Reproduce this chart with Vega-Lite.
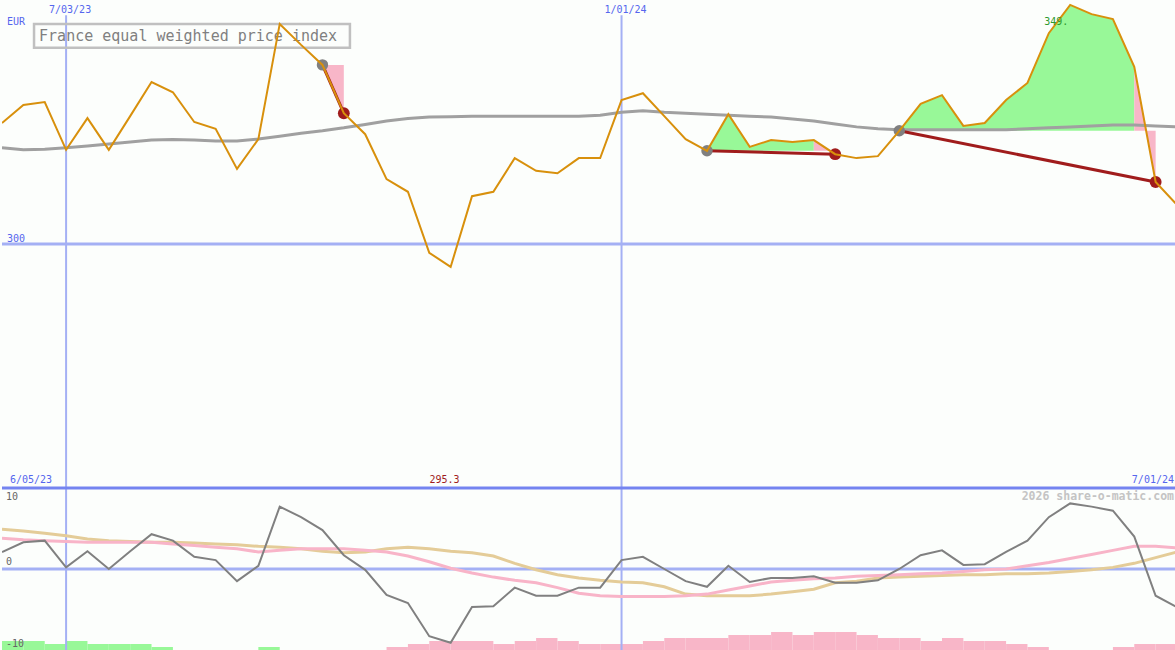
{
  "$schema": "https://vega.github.io/schema/vega-lite/v6.json",
  "background": "#fcfefc",
  "padding": 0,
  "autosize": {"type": "pad"},
  "spacing": 0,
  "bounds": "flush",
  "config": {"view": {"stroke": null}, "text": {"font": "DejaVu Sans Mono"}, "concat": {"spacing": 0}},
  "datasets": {
    "weekly": [
      {"date": "2023-06-12", "price": 324.8, "ma": 319.7, "osc": 2.1, "sig": 3.8, "slow": 4.9},
      {"date": "2023-06-19", "price": 328.5, "ma": 319.3, "osc": 3.3, "sig": 3.6, "slow": 4.7},
      {"date": "2023-06-26", "price": 329.1, "ma": 319.4, "osc": 3.5, "sig": 3.5, "slow": 4.4},
      {"date": "2023-07-03", "price": 319.3, "ma": 319.7, "osc": 0.2, "sig": 3.4, "slow": 4.1},
      {"date": "2023-07-10", "price": 325.8, "ma": 320.1, "osc": 2.2, "sig": 3.3, "slow": 3.7},
      {"date": "2023-07-17", "price": 319.3, "ma": 320.5, "osc": 0.0, "sig": 3.3, "slow": 3.5},
      {"date": "2023-07-24", "price": 326.2, "ma": 320.9, "osc": 2.2, "sig": 3.3, "slow": 3.4},
      {"date": "2023-07-31", "price": 333.2, "ma": 321.3, "osc": 4.3, "sig": 3.3, "slow": 3.3},
      {"date": "2023-08-07", "price": 331.1, "ma": 321.4, "osc": 3.5, "sig": 3.1, "slow": 3.3},
      {"date": "2023-08-14", "price": 325.0, "ma": 321.3, "osc": 1.5, "sig": 2.9, "slow": 3.2},
      {"date": "2023-08-21", "price": 323.6, "ma": 321.1, "osc": 1.1, "sig": 2.7, "slow": 3.1},
      {"date": "2023-08-28", "price": 315.4, "ma": 321.1, "osc": -1.5, "sig": 2.5, "slow": 3.0},
      {"date": "2023-09-04", "price": 321.5, "ma": 321.5, "osc": 0.4, "sig": 2.1, "slow": 2.8},
      {"date": "2023-09-11", "price": 345.1, "ma": 322.1, "osc": 7.7, "sig": 2.3, "slow": 2.7},
      {"date": "2023-09-18", "price": 340.8, "ma": 322.7, "osc": 6.4, "sig": 2.5, "slow": 2.5},
      {"date": "2023-09-25", "price": 336.7, "ma": 323.2, "osc": 4.8, "sig": 2.5, "slow": 2.2},
      {"date": "2023-10-02", "price": 326.8, "ma": 323.8, "osc": 1.7, "sig": 2.5, "slow": 2.0},
      {"date": "2023-10-09", "price": 322.5, "ma": 324.5, "osc": -0.1, "sig": 2.3, "slow": 2.1},
      {"date": "2023-10-16", "price": 313.3, "ma": 325.2, "osc": -3.2, "sig": 2.1, "slow": 2.5},
      {"date": "2023-10-23", "price": 310.7, "ma": 325.7, "osc": -4.2, "sig": 1.6, "slow": 2.7},
      {"date": "2023-10-30", "price": 298.2, "ma": 326.0, "osc": -8.3, "sig": 0.9, "slow": 2.5},
      {"date": "2023-11-06", "price": 295.3, "ma": 326.1, "osc": -9.1, "sig": 0.1, "slow": 2.2},
      {"date": "2023-11-13", "price": 309.8, "ma": 326.2, "osc": -4.7, "sig": -0.5, "slow": 2.0},
      {"date": "2023-11-20", "price": 310.7, "ma": 326.2, "osc": -4.6, "sig": -1.0, "slow": 1.6},
      {"date": "2023-11-27", "price": 317.6, "ma": 326.2, "osc": -2.3, "sig": -1.4, "slow": 0.7},
      {"date": "2023-12-04", "price": 315.0, "ma": 326.2, "osc": -3.3, "sig": -1.7, "slow": -0.1},
      {"date": "2023-12-11", "price": 314.5, "ma": 326.2, "osc": -3.3, "sig": -2.3, "slow": -0.7},
      {"date": "2023-12-18", "price": 317.6, "ma": 326.2, "osc": -2.3, "sig": -3.0, "slow": -1.1},
      {"date": "2023-12-25", "price": 317.6, "ma": 326.4, "osc": -2.3, "sig": -3.3, "slow": -1.4},
      {"date": "2024-01-01", "price": 329.5, "ma": 327.0, "osc": 1.1, "sig": -3.4, "slow": -1.6},
      {"date": "2024-01-08", "price": 330.9, "ma": 327.3, "osc": 1.5, "sig": -3.4, "slow": -1.7},
      {"date": "2024-01-15", "price": 326.2, "ma": 327.0, "osc": 0.0, "sig": -3.4, "slow": -2.2},
      {"date": "2024-01-22", "price": 321.5, "ma": 326.8, "osc": -1.5, "sig": -3.3, "slow": -3.1},
      {"date": "2024-01-29", "price": 319.1, "ma": 326.6, "osc": -2.2, "sig": -3.1, "slow": -3.3},
      {"date": "2024-02-05", "price": 326.6, "ma": 326.4, "osc": 0.4, "sig": -2.6, "slow": -3.3},
      {"date": "2024-02-12", "price": 319.9, "ma": 326.2, "osc": -1.6, "sig": -2.1, "slow": -3.3},
      {"date": "2024-02-19", "price": 321.3, "ma": 326.0, "osc": -1.1, "sig": -1.6, "slow": -3.1},
      {"date": "2024-02-26", "price": 320.9, "ma": 325.6, "osc": -1.1, "sig": -1.4, "slow": -2.8},
      {"date": "2024-03-04", "price": 321.3, "ma": 325.2, "osc": -0.9, "sig": -1.2, "slow": -2.5},
      {"date": "2024-03-11", "price": 318.4, "ma": 324.6, "osc": -1.7, "sig": -1.1, "slow": -1.7},
      {"date": "2024-03-18", "price": 317.6, "ma": 324.0, "osc": -1.7, "sig": -0.9, "slow": -1.5},
      {"date": "2024-03-25", "price": 318.0, "ma": 323.6, "osc": -1.4, "sig": -0.8, "slow": -1.1},
      {"date": "2024-04-01", "price": 323.2, "ma": 323.4, "osc": 0.0, "sig": -0.7, "slow": -1.0},
      {"date": "2024-04-08", "price": 328.7, "ma": 323.4, "osc": 1.7, "sig": -0.6, "slow": -0.9},
      {"date": "2024-04-15", "price": 330.5, "ma": 323.4, "osc": 2.3, "sig": -0.5, "slow": -0.8},
      {"date": "2024-04-22", "price": 324.2, "ma": 323.4, "osc": 0.5, "sig": -0.3, "slow": -0.7},
      {"date": "2024-04-29", "price": 324.8, "ma": 323.4, "osc": 0.6, "sig": -0.1, "slow": -0.7},
      {"date": "2024-05-06", "price": 329.5, "ma": 323.4, "osc": 2.1, "sig": 0.0, "slow": -0.6},
      {"date": "2024-05-13", "price": 333.0, "ma": 323.6, "osc": 3.5, "sig": 0.4, "slow": -0.6},
      {"date": "2024-05-20", "price": 343.2, "ma": 323.8, "osc": 6.4, "sig": 0.8, "slow": -0.5},
      {"date": "2024-05-27", "price": 349.0, "ma": 324.0, "osc": 8.1, "sig": 1.3, "slow": -0.3},
      {"date": "2024-06-03", "price": 347.1, "ma": 324.2, "osc": 7.7, "sig": 1.8, "slow": -0.1},
      {"date": "2024-06-10", "price": 346.1, "ma": 324.4, "osc": 7.2, "sig": 2.3, "slow": 0.2},
      {"date": "2024-06-17", "price": 336.3, "ma": 324.4, "osc": 4.0, "sig": 2.8, "slow": 0.7},
      {"date": "2024-06-24", "price": 312.7, "ma": 324.2, "osc": -3.3, "sig": 2.8, "slow": 1.4},
      {"date": "2024-07-01", "price": 308.0, "ma": 324.0, "osc": -4.7, "sig": 2.6, "slow": 2.1}
    ],
    "bars": [
      {"date": "2023-06-12", "end": "2023-06-19", "bar": 3, "dir": "up"},
      {"date": "2023-06-19", "end": "2023-06-26", "bar": 3, "dir": "up"},
      {"date": "2023-06-26", "end": "2023-07-03", "bar": 2, "dir": "up"},
      {"date": "2023-07-03", "end": "2023-07-10", "bar": 3, "dir": "up"},
      {"date": "2023-07-10", "end": "2023-07-17", "bar": 2, "dir": "up"},
      {"date": "2023-07-17", "end": "2023-07-24", "bar": 2, "dir": "up"},
      {"date": "2023-07-24", "end": "2023-07-31", "bar": 2, "dir": "up"},
      {"date": "2023-07-31", "end": "2023-08-07", "bar": 1, "dir": "up"},
      {"date": "2023-09-04", "end": "2023-09-11", "bar": 1, "dir": "up"},
      {"date": "2023-10-16", "end": "2023-10-23", "bar": 1, "dir": "down"},
      {"date": "2023-10-23", "end": "2023-10-30", "bar": 2, "dir": "down"},
      {"date": "2023-10-30", "end": "2023-11-06", "bar": 3, "dir": "down"},
      {"date": "2023-11-06", "end": "2023-11-13", "bar": 3, "dir": "down"},
      {"date": "2023-11-13", "end": "2023-11-20", "bar": 3, "dir": "down"},
      {"date": "2023-11-20", "end": "2023-11-27", "bar": 2, "dir": "down"},
      {"date": "2023-11-27", "end": "2023-12-04", "bar": 3, "dir": "down"},
      {"date": "2023-12-04", "end": "2023-12-11", "bar": 4, "dir": "down"},
      {"date": "2023-12-11", "end": "2023-12-18", "bar": 3, "dir": "down"},
      {"date": "2023-12-18", "end": "2023-12-25", "bar": 2, "dir": "down"},
      {"date": "2023-12-25", "end": "2024-01-01", "bar": 2, "dir": "down"},
      {"date": "2024-01-01", "end": "2024-01-08", "bar": 2, "dir": "down"},
      {"date": "2024-01-08", "end": "2024-01-15", "bar": 3, "dir": "down"},
      {"date": "2024-01-15", "end": "2024-01-22", "bar": 4, "dir": "down"},
      {"date": "2024-01-22", "end": "2024-01-29", "bar": 4, "dir": "down"},
      {"date": "2024-01-29", "end": "2024-02-05", "bar": 4, "dir": "down"},
      {"date": "2024-02-05", "end": "2024-02-12", "bar": 5, "dir": "down"},
      {"date": "2024-02-12", "end": "2024-02-19", "bar": 5, "dir": "down"},
      {"date": "2024-02-19", "end": "2024-02-26", "bar": 6, "dir": "down"},
      {"date": "2024-02-26", "end": "2024-03-04", "bar": 5, "dir": "down"},
      {"date": "2024-03-04", "end": "2024-03-11", "bar": 6, "dir": "down"},
      {"date": "2024-03-11", "end": "2024-03-18", "bar": 6, "dir": "down"},
      {"date": "2024-03-18", "end": "2024-03-25", "bar": 5, "dir": "down"},
      {"date": "2024-03-25", "end": "2024-04-01", "bar": 4, "dir": "down"},
      {"date": "2024-04-01", "end": "2024-04-08", "bar": 4, "dir": "down"},
      {"date": "2024-04-08", "end": "2024-04-15", "bar": 3, "dir": "down"},
      {"date": "2024-04-15", "end": "2024-04-22", "bar": 4, "dir": "down"},
      {"date": "2024-04-22", "end": "2024-04-29", "bar": 3, "dir": "down"},
      {"date": "2024-04-29", "end": "2024-05-06", "bar": 3, "dir": "down"},
      {"date": "2024-05-06", "end": "2024-05-13", "bar": 2, "dir": "down"},
      {"date": "2024-05-13", "end": "2024-05-20", "bar": 1, "dir": "down"},
      {"date": "2024-06-10", "end": "2024-06-17", "bar": 1, "dir": "down"},
      {"date": "2024-06-17", "end": "2024-06-24", "bar": 2, "dir": "down"},
      {"date": "2024-06-24", "end": "2024-07-01", "bar": 2, "dir": "down"}
    ],
    "fills": [
      {"date": "2023-09-25", "price": 336.7, "entry": 336.7, "seg": "t1", "res": "loss"},
      {"date": "2023-10-02", "price": 326.8, "entry": 336.7, "seg": "t1", "res": "loss"},
      {"date": "2024-01-29", "price": 319.1, "entry": 319.1, "seg": "t2g", "res": "gain"},
      {"date": "2024-02-05", "price": 326.6, "entry": 319.1, "seg": "t2g", "res": "gain"},
      {"date": "2024-02-12", "price": 319.9, "entry": 319.1, "seg": "t2g", "res": "gain"},
      {"date": "2024-02-19", "price": 321.3, "entry": 319.1, "seg": "t2g", "res": "gain"},
      {"date": "2024-02-26", "price": 320.9, "entry": 319.1, "seg": "t2g", "res": "gain"},
      {"date": "2024-03-04", "price": 321.3, "entry": 319.1, "seg": "t2g", "res": "gain"},
      {"date": "2024-03-04", "price": 321.3, "entry": 319.1, "seg": "t2p", "res": "loss"},
      {"date": "2024-03-11", "price": 318.4, "entry": 319.1, "seg": "t2p", "res": "loss"},
      {"date": "2024-04-01", "price": 323.2, "entry": 323.2, "seg": "t3g", "res": "gain"},
      {"date": "2024-04-08", "price": 328.7, "entry": 323.2, "seg": "t3g", "res": "gain"},
      {"date": "2024-04-15", "price": 330.5, "entry": 323.2, "seg": "t3g", "res": "gain"},
      {"date": "2024-04-22", "price": 324.2, "entry": 323.2, "seg": "t3g", "res": "gain"},
      {"date": "2024-04-29", "price": 324.8, "entry": 323.2, "seg": "t3g", "res": "gain"},
      {"date": "2024-05-06", "price": 329.5, "entry": 323.2, "seg": "t3g", "res": "gain"},
      {"date": "2024-05-13", "price": 333.0, "entry": 323.2, "seg": "t3g", "res": "gain"},
      {"date": "2024-05-20", "price": 343.2, "entry": 323.2, "seg": "t3g", "res": "gain"},
      {"date": "2024-05-27", "price": 349.0, "entry": 323.2, "seg": "t3g", "res": "gain"},
      {"date": "2024-06-03", "price": 347.1, "entry": 323.2, "seg": "t3g", "res": "gain"},
      {"date": "2024-06-10", "price": 346.1, "entry": 323.2, "seg": "t3g", "res": "gain"},
      {"date": "2024-06-17", "price": 336.3, "entry": 323.2, "seg": "t3g", "res": "gain"},
      {"date": "2024-06-17", "price": 336.3, "entry": 323.2, "seg": "t3p", "res": "loss"},
      {"date": "2024-06-24", "price": 312.7, "entry": 323.2, "seg": "t3p", "res": "loss"}
    ],
    "trades": [
      {"date": "2023-09-25", "price": 336.7, "kind": "entry", "trade": 1},
      {"date": "2023-10-02", "price": 326.8, "kind": "exit", "trade": 1},
      {"date": "2024-01-29", "price": 319.1, "kind": "entry", "trade": 2},
      {"date": "2024-03-11", "price": 318.4, "kind": "exit", "trade": 2},
      {"date": "2024-04-01", "price": 323.2, "kind": "entry", "trade": 3},
      {"date": "2024-06-24", "price": 312.7, "kind": "exit", "trade": 3}
    ],
    "grid": [
      {"date": "2023-07-03"},
      {"date": "2024-01-01"}
    ]
  },
  "vconcat": [
    {
      "width": 1175,
      "height": 488,
      "layer": [
        {
          "data": {"name": "grid"},
          "mark": {"type": "rule", "color": "#a4b0f4", "strokeWidth": 2},
          "encoding": {
            "x": {"field": "date", "type": "temporal", "scale": {"domain": [{"year": 2023, "month": 6, "date": 12, "utc": true}, {"year": 2024, "month": 7, "date": 1, "utc": true}]}, "axis": null},
            "y": {"datum": 346.9, "type": "quantitative", "scale": {"domain": [250, 350], "nice": false}, "axis": null},
            "y2": {"datum": 250}
          }
        },
        {
          "data": {"values": [{}]},
          "mark": {"type": "rule", "color": "#a4b0f4", "strokeWidth": 3},
          "encoding": {
            "y": {"datum": 300, "type": "quantitative", "scale": {"domain": [250, 350], "nice": false}, "axis": null}
          }
        },
        {
          "data": {"name": "fills"},
          "transform": [{"filter": "datum.res == 'gain'"}],
          "mark": {"type": "area", "opacity": 1, "color": "#98f898"},
          "encoding": {
            "x": {"field": "date", "type": "temporal", "scale": {"domain": [{"year": 2023, "month": 6, "date": 12, "utc": true}, {"year": 2024, "month": 7, "date": 1, "utc": true}]}, "axis": null},
            "y": {"field": "price", "type": "quantitative", "scale": {"domain": [250, 350], "nice": false}, "axis": null},
            "y2": {"field": "entry"},
            "detail": {"field": "seg"}
          }
        },
        {
          "data": {"name": "fills"},
          "transform": [{"filter": "datum.res == 'loss'"}],
          "mark": {"type": "area", "opacity": 1, "color": "#f8b6c8"},
          "encoding": {
            "x": {"field": "date", "type": "temporal", "scale": {"domain": [{"year": 2023, "month": 6, "date": 12, "utc": true}, {"year": 2024, "month": 7, "date": 1, "utc": true}]}, "axis": null},
            "y": {"field": "price", "type": "quantitative", "scale": {"domain": [250, 350], "nice": false}, "axis": null},
            "y2": {"field": "entry"},
            "detail": {"field": "seg"}
          }
        },
        {
          "data": {"name": "weekly"},
          "mark": {"type": "line", "color": "#a0a0a0", "strokeWidth": 3, "clip": true},
          "encoding": {
            "x": {"field": "date", "type": "temporal", "scale": {"domain": [{"year": 2023, "month": 6, "date": 12, "utc": true}, {"year": 2024, "month": 7, "date": 1, "utc": true}]}, "axis": null},
            "y": {"field": "ma", "type": "quantitative", "scale": {"domain": [250, 350], "nice": false}, "axis": null}
          }
        },
        {
          "data": {"values": [{}]},
          "mark": {"type": "rect", "fill": null, "stroke": "#c0c0c0", "strokeWidth": 2.5},
          "encoding": {
            "x": {"datum": {"year": 2023, "month": 6, "date": 22, "hours": 12, "utc": true}, "type": "temporal", "scale": {"domain": [{"year": 2023, "month": 6, "date": 12, "utc": true}, {"year": 2024, "month": 7, "date": 1, "utc": true}]}, "axis": null},
            "x2": {"datum": {"year": 2023, "month": 10, "date": 4, "utc": true}},
            "y": {"datum": 345.1, "type": "quantitative", "scale": {"domain": [250, 350], "nice": false}, "axis": null},
            "y2": {"datum": 340.2}
          }
        },
        {
          "data": {"values": [{}]},
          "mark": {"type": "text", "text": "France equal weighted price index", "align": "left", "baseline": "alphabetic", "fontSize": 15, "color": "#808080", "dx": 5},
          "encoding": {
            "x": {"datum": {"year": 2023, "month": 6, "date": 22, "hours": 12, "utc": true}, "type": "temporal", "scale": {"domain": [{"year": 2023, "month": 6, "date": 12, "utc": true}, {"year": 2024, "month": 7, "date": 1, "utc": true}]}, "axis": null},
            "y": {"datum": 341.6, "type": "quantitative", "scale": {"domain": [250, 350], "nice": false}, "axis": null}
          }
        },
        {
          "data": {"name": "trades"},
          "mark": {"type": "line", "color": "#a01c1c", "strokeWidth": 3},
          "encoding": {
            "x": {"field": "date", "type": "temporal", "scale": {"domain": [{"year": 2023, "month": 6, "date": 12, "utc": true}, {"year": 2024, "month": 7, "date": 1, "utc": true}]}, "axis": null},
            "y": {"field": "price", "type": "quantitative", "scale": {"domain": [250, 350], "nice": false}, "axis": null},
            "detail": {"field": "trade"}
          }
        },
        {
          "data": {"name": "trades"},
          "transform": [{"filter": "datum.kind == 'entry'"}],
          "mark": {"type": "circle", "size": 130, "opacity": 1, "color": "#808080"},
          "encoding": {
            "x": {"field": "date", "type": "temporal", "scale": {"domain": [{"year": 2023, "month": 6, "date": 12, "utc": true}, {"year": 2024, "month": 7, "date": 1, "utc": true}]}, "axis": null},
            "y": {"field": "price", "type": "quantitative", "scale": {"domain": [250, 350], "nice": false}, "axis": null}
          }
        },
        {
          "data": {"name": "trades"},
          "transform": [{"filter": "datum.kind == 'exit'"}],
          "mark": {"type": "circle", "size": 140, "opacity": 1, "color": "#a01c1c"},
          "encoding": {
            "x": {"field": "date", "type": "temporal", "scale": {"domain": [{"year": 2023, "month": 6, "date": 12, "utc": true}, {"year": 2024, "month": 7, "date": 1, "utc": true}]}, "axis": null},
            "y": {"field": "price", "type": "quantitative", "scale": {"domain": [250, 350], "nice": false}, "axis": null}
          }
        },
        {
          "data": {"name": "weekly"},
          "mark": {"type": "line", "color": "#d8900c", "strokeWidth": 2, "clip": true},
          "encoding": {
            "x": {"field": "date", "type": "temporal", "scale": {"domain": [{"year": 2023, "month": 6, "date": 12, "utc": true}, {"year": 2024, "month": 7, "date": 1, "utc": true}]}, "axis": null},
            "y": {"field": "price", "type": "quantitative", "scale": {"domain": [250, 350], "nice": false}, "axis": null}
          }
        },
        {
          "data": {"values": [
            {"label": "7/03/23", "date": "2023-07-03"},
            {"label": "1/01/24", "date": "2024-01-01"}
          ]},
          "mark": {"type": "text", "align": "center", "baseline": "alphabetic", "fontSize": 10, "color": "#5566ee", "dx": 4},
          "encoding": {
            "x": {"field": "date", "type": "temporal", "scale": {"domain": [{"year": 2023, "month": 6, "date": 12, "utc": true}, {"year": 2024, "month": 7, "date": 1, "utc": true}]}, "axis": null},
            "y": {"datum": 347.3, "type": "quantitative", "scale": {"domain": [250, 350], "nice": false}, "axis": null},
            "text": {"field": "label"}
          }
        },
        {
          "data": {"values": [{}]},
          "mark": {"type": "text", "text": "EUR", "align": "left", "baseline": "alphabetic", "fontSize": 10, "color": "#5566ee", "dx": 5},
          "encoding": {
            "x": {"datum": {"year": 2023, "month": 6, "date": 12, "utc": true}, "type": "temporal", "scale": {"domain": [{"year": 2023, "month": 6, "date": 12, "utc": true}, {"year": 2024, "month": 7, "date": 1, "utc": true}]}, "axis": null},
            "y": {"datum": 344.9, "type": "quantitative", "scale": {"domain": [250, 350], "nice": false}, "axis": null}
          }
        },
        {
          "data": {"values": [{}]},
          "mark": {"type": "text", "text": "300", "align": "left", "baseline": "alphabetic", "fontSize": 10, "color": "#5566ee", "dx": 5},
          "encoding": {
            "x": {"datum": {"year": 2023, "month": 6, "date": 12, "utc": true}, "type": "temporal", "scale": {"domain": [{"year": 2023, "month": 6, "date": 12, "utc": true}, {"year": 2024, "month": 7, "date": 1, "utc": true}]}, "axis": null},
            "y": {"datum": 300.4, "type": "quantitative", "scale": {"domain": [250, 350], "nice": false}, "axis": null}
          }
        },
        {
          "data": {"values": [{}]},
          "mark": {"type": "text", "text": "6/05/23", "align": "left", "baseline": "alphabetic", "fontSize": 10, "color": "#5566ee", "dx": 8},
          "encoding": {
            "x": {"datum": {"year": 2023, "month": 6, "date": 12, "utc": true}, "type": "temporal", "scale": {"domain": [{"year": 2023, "month": 6, "date": 12, "utc": true}, {"year": 2024, "month": 7, "date": 1, "utc": true}]}, "axis": null},
            "y": {"datum": 251.0, "type": "quantitative", "scale": {"domain": [250, 350], "nice": false}, "axis": null}
          }
        },
        {
          "data": {"values": [{}]},
          "mark": {"type": "text", "text": "7/01/24", "align": "right", "baseline": "alphabetic", "fontSize": 10, "color": "#5566ee", "dx": -3},
          "encoding": {
            "x": {"datum": {"year": 2024, "month": 7, "date": 1, "utc": true}, "type": "temporal", "scale": {"domain": [{"year": 2023, "month": 6, "date": 12, "utc": true}, {"year": 2024, "month": 7, "date": 1, "utc": true}]}, "axis": null},
            "y": {"datum": 251.0, "type": "quantitative", "scale": {"domain": [250, 350], "nice": false}, "axis": null}
          }
        },
        {
          "data": {"values": [{}]},
          "mark": {"type": "text", "text": "295.3", "align": "center", "baseline": "alphabetic", "fontSize": 10, "color": "#a01c1c"},
          "encoding": {
            "x": {"datum": {"year": 2023, "month": 11, "date": 4, "utc": true}, "type": "temporal", "scale": {"domain": [{"year": 2023, "month": 6, "date": 12, "utc": true}, {"year": 2024, "month": 7, "date": 1, "utc": true}]}, "axis": null},
            "y": {"datum": 251.0, "type": "quantitative", "scale": {"domain": [250, 350], "nice": false}, "axis": null}
          }
        },
        {
          "data": {"values": [{}]},
          "mark": {"type": "text", "text": "349.", "align": "left", "baseline": "alphabetic", "fontSize": 10, "color": "#2e9a2e"},
          "encoding": {
            "x": {"datum": {"year": 2024, "month": 5, "date": 18, "hours": 12, "utc": true}, "type": "temporal", "scale": {"domain": [{"year": 2023, "month": 6, "date": 12, "utc": true}, {"year": 2024, "month": 7, "date": 1, "utc": true}]}, "axis": null},
            "y": {"datum": 344.9, "type": "quantitative", "scale": {"domain": [250, 350], "nice": false}, "axis": null}
          }
        }
      ]
    },
    {
      "width": 1175,
      "height": 162,
      "resolve": {"scale": {"y": "independent"}},
      "layer": [
        {
          "data": {"name": "bars"},
          "transform": [{"filter": "datum.dir == 'up'"}],
          "mark": {"type": "rect", "color": "#98f898"},
          "encoding": {
            "x": {"field": "date", "type": "temporal", "scale": {"domain": [{"year": 2023, "month": 6, "date": 12, "utc": true}, {"year": 2024, "month": 7, "date": 1, "utc": true}]}, "axis": null},
            "x2": {"field": "end"},
            "y": {"field": "bar", "type": "quantitative", "scale": {"domain": [0, 54], "nice": false}, "axis": null},
            "y2": {"datum": 0}
          }
        },
        {
          "data": {"name": "bars"},
          "transform": [{"filter": "datum.dir == 'down'"}],
          "mark": {"type": "rect", "color": "#f8b6c8"},
          "encoding": {
            "x": {"field": "date", "type": "temporal", "scale": {"domain": [{"year": 2023, "month": 6, "date": 12, "utc": true}, {"year": 2024, "month": 7, "date": 1, "utc": true}]}, "axis": null},
            "x2": {"field": "end"},
            "y": {"field": "bar", "type": "quantitative", "scale": {"domain": [0, 54], "nice": false}, "axis": null},
            "y2": {"datum": 0}
          }
        },
        {
          "layer": [
            {
              "data": {"name": "grid"},
              "mark": {"type": "rule", "color": "#a4b0f4", "strokeWidth": 2},
              "encoding": {
                "x": {"field": "date", "type": "temporal", "scale": {"domain": [{"year": 2023, "month": 6, "date": 12, "utc": true}, {"year": 2024, "month": 7, "date": 1, "utc": true}]}, "axis": null}
              }
            },
            {
              "data": {"values": [{}]},
              "mark": {"type": "rule", "color": "#a4b0f4", "strokeWidth": 3},
              "encoding": {
                "y": {"datum": 0, "type": "quantitative", "scale": {"domain": [-10, 10], "nice": false}, "axis": null}
              }
            },
            {
              "data": {"values": [{}]},
              "mark": {"type": "rule", "color": "#7484f0", "strokeWidth": 3},
              "encoding": {
                "y": {"datum": 10, "type": "quantitative", "scale": {"domain": [-10, 10], "nice": false}, "axis": null}
              }
            },
            {
              "data": {"name": "weekly"},
              "mark": {"type": "line", "color": "#e4cc98", "strokeWidth": 3, "clip": true},
              "encoding": {
                "x": {"field": "date", "type": "temporal", "scale": {"domain": [{"year": 2023, "month": 6, "date": 12, "utc": true}, {"year": 2024, "month": 7, "date": 1, "utc": true}]}, "axis": null},
                "y": {"field": "slow", "type": "quantitative", "scale": {"domain": [-10, 10], "nice": false}, "axis": null}
              }
            },
            {
              "data": {"name": "weekly"},
              "mark": {"type": "line", "color": "#f8b4c8", "strokeWidth": 3, "clip": true},
              "encoding": {
                "x": {"field": "date", "type": "temporal", "scale": {"domain": [{"year": 2023, "month": 6, "date": 12, "utc": true}, {"year": 2024, "month": 7, "date": 1, "utc": true}]}, "axis": null},
                "y": {"field": "sig", "type": "quantitative", "scale": {"domain": [-10, 10], "nice": false}, "axis": null}
              }
            },
            {
              "data": {"name": "weekly"},
              "mark": {"type": "line", "color": "#808080", "strokeWidth": 2, "clip": true},
              "encoding": {
                "x": {"field": "date", "type": "temporal", "scale": {"domain": [{"year": 2023, "month": 6, "date": 12, "utc": true}, {"year": 2024, "month": 7, "date": 1, "utc": true}]}, "axis": null},
                "y": {"field": "osc", "type": "quantitative", "scale": {"domain": [-10, 10], "nice": false}, "axis": null}
              }
            },
            {
              "data": {"values": [
                {"label": "10", "v": 8.52},
                {"label": "0", "v": 0.49},
                {"label": "-10", "v": -9.63}
              ]},
              "mark": {"type": "text", "align": "left", "baseline": "alphabetic", "fontSize": 10, "color": "#666666", "dx": 4},
              "encoding": {
                "x": {"datum": {"year": 2023, "month": 6, "date": 12, "utc": true}, "type": "temporal", "scale": {"domain": [{"year": 2023, "month": 6, "date": 12, "utc": true}, {"year": 2024, "month": 7, "date": 1, "utc": true}]}, "axis": null},
                "y": {"field": "v", "type": "quantitative", "scale": {"domain": [-10, 10], "nice": false}, "axis": null},
                "text": {"field": "label"}
              }
            },
            {
              "data": {"values": [{}]},
              "mark": {"type": "text", "text": "2026 share-o-matic.com", "align": "right", "baseline": "alphabetic", "fontSize": 11.5, "fontWeight": "bold", "color": "#c4c4c4", "dx": -3},
              "encoding": {
                "x": {"datum": {"year": 2024, "month": 7, "date": 1, "utc": true}, "type": "temporal", "scale": {"domain": [{"year": 2023, "month": 6, "date": 12, "utc": true}, {"year": 2024, "month": 7, "date": 1, "utc": true}]}, "axis": null},
                "y": {"datum": 8.52, "type": "quantitative", "scale": {"domain": [-10, 10], "nice": false}, "axis": null}
              }
            }
          ]
        }
      ]
    }
  ]
}
